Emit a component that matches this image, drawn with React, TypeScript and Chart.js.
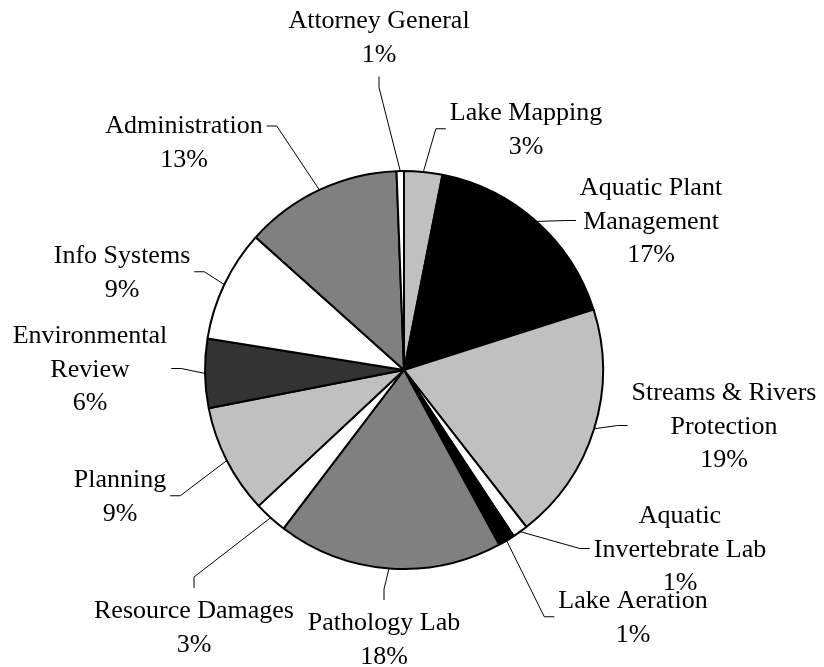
import React, { useEffect, useRef } from "react";
import { Chart, registerables } from "chart.js";

Chart.register(...registerables);

// Categories (multi-line label text as shown on the chart)
const categories: string[][] = [
  ["Lake Mapping"],
  ["Aquatic Plant", "Management"],
  ["Streams & Rivers", "Protection"],
  ["Aquatic", "Invertebrate Lab"],
  ["Lake Aeration"],
  ["Pathology Lab"],
  ["Resource Damages"],
  ["Planning"],
  ["Environmental", "Review"],
  ["Info Systems"],
  ["Administration"],
  ["Attorney General"],
];

// Share of budget (percent)
const values: number[] = [3.1, 17.0, 19.4, 1.25, 1.35, 18.3, 2.7, 8.9, 5.6, 9.1, 12.8, 0.6];

// Slice fills
const fills: string[] = [
  "#C0C0C0",
  "#000000",
  "#C0C0C0",
  "#FFFFFF",
  "#000000",
  "#808080",
  "#FFFFFF",
  "#C0C0C0",
  "#333333",
  "#FFFFFF",
  "#808080",
  "#FFFFFF",
];

// Label placement (offset of label block centre / first baseline from pie centre)
type LabelPos = { dx: number; dy: number; side: "left" | "right" | "top" | "bottom"; firstLine?: boolean };
const labelPositions: LabelPos[] = [
  { dx: 122, dy: -250, side: "right" },
  { dx: 247, dy: -175, side: "right" },
  { dx: 320, dy: 30, side: "right" },
  { dx: 276, dy: 153, side: "right" },
  { dx: 229, dy: 238, side: "right" },
  { dx: -20, dy: 260, side: "bottom" },
  { dx: -210, dy: 248, side: "bottom" },
  { dx: -284, dy: 117, side: "left" },
  { dx: -314, dy: -27, side: "left" },
  { dx: -282, dy: -107, side: "left" },
  { dx: -220, dy: -237, side: "left", firstLine: true },
  { dx: -25, dy: -342, side: "top" },
];

const FONT_SIZE = 26;
const LINE_H = 33.5;
const FONT_FAMILY = '"Liberation Serif", "Times New Roman", serif';

const pieLabelPlugin = {
  id: "pieLabels",
  afterDatasetsDraw(chart: any) {
    const meta = chart.getDatasetMeta(0);
    const ctx: CanvasRenderingContext2D = chart.ctx;
    const data: number[] = chart.data.datasets[0].data;
    const total = data.reduce((a, b) => a + b, 0);
    ctx.save();
    ctx.font = `${FONT_SIZE}px ${FONT_FAMILY}`;
    ctx.fillStyle = "#000";
    ctx.strokeStyle = "#000";
    ctx.lineWidth = 1;
    ctx.textAlign = "center";
    ctx.textBaseline = "alphabetic";
    meta.data.forEach((arc: any, i: number) => {
      const p = arc.getProps(["x", "y", "startAngle", "endAngle", "outerRadius"], true);
      const mid = (p.startAngle + p.endAngle) / 2;
      const ex = p.x + Math.cos(mid) * p.outerRadius;
      const ey = p.y + Math.sin(mid) * p.outerRadius;
      const pos = labelPositions[i];
      const lines = [...categories[i], Math.round((data[i] / total) * 100) + "%"];
      const cx = p.x + pos.dx;
      const b1 = p.y + pos.dy;
      const bN = b1 + (lines.length - 1) * LINE_H;
      let maxW = 0;
      lines.forEach((t) => {
        maxW = Math.max(maxW, ctx.measureText(t).width);
      });
      const left = cx - maxW / 2;
      const right = cx + maxW / 2;
      const midY = pos.firstLine ? b1 - 7 : (b1 + bN) / 2 - 8;
      let ax = 0, ay = 0, bx = 0, by = 0;
      if (pos.side === "right") {
        ax = left - 4; ay = midY; bx = ax - 10; by = ay;
      } else if (pos.side === "left") {
        ax = right + 4; ay = midY; bx = ax + 10; by = ay;
      } else if (pos.side === "top") {
        ax = cx; ay = bN + 15; bx = cx; by = ay + 11;
      } else {
        ax = cx; ay = b1 - 30; bx = cx; by = ay - 11;
      }
      ctx.beginPath();
      ctx.moveTo(ex, ey);
      ctx.lineTo(bx, by);
      ctx.lineTo(ax, ay);
      ctx.stroke();
      lines.forEach((t, k) => {
        ctx.fillText(t, cx, b1 + k * LINE_H);
      });
    });
    ctx.restore();
  },
};

export default function App() {
  const ref = useRef<HTMLCanvasElement | null>(null);
  useEffect(() => {
    document.body.style.margin = "0";
    const canvas = ref.current;
    if (!canvas) return;
    const chart = new Chart(canvas, {
      type: "pie",
      data: {
        labels: categories.map((c) => c.join(" ")),
        datasets: [
          {
            data: values,
            backgroundColor: fills,
            borderColor: "#000000",
            borderWidth: 2,
            hoverBorderWidth: 2,
            hoverOffset: 0,
          },
        ],
      },
      options: {
        responsive: false,
        animation: false,
        events: [],
        layout: { padding: { left: 204, right: 220, top: 170, bottom: 97 } },
        plugins: {
          legend: { display: false },
          tooltip: { enabled: false },
        },
      },
      plugins: [pieLabelPlugin],
    });
    return () => chart.destroy();
  }, []);
  return (
    <div style={{ width: 824, height: 667, background: "#fff" }}>
      <canvas ref={ref} width={824} height={667} style={{ display: "block" }} />
    </div>
  );
}
